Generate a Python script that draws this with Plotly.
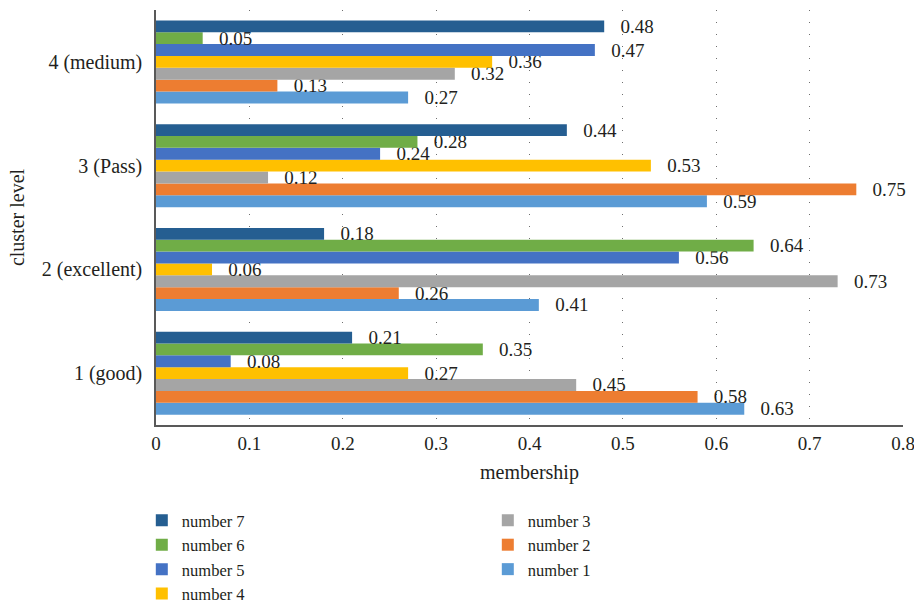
import plotly.graph_objects as go

# Cluster levels (bottom to top) and membership per sample
levels = ["1 (good)", "2 (excellent)", "3 (Pass)", "4 (medium)"]

number_1 = [0.63, 0.41, 0.59, 0.27]
number_2 = [0.58, 0.26, 0.75, 0.13]
number_3 = [0.45, 0.73, 0.12, 0.32]
number_4 = [0.27, 0.06, 0.53, 0.36]
number_5 = [0.08, 0.56, 0.24, 0.47]
number_6 = [0.35, 0.64, 0.28, 0.05]
number_7 = [0.21, 0.18, 0.44, 0.48]

x_ticks = [0, 0.1, 0.2, 0.3, 0.4, 0.5, 0.6, 0.7, 0.8]

# (legend name, values, colour, legend rank) -- ranks lay the legend out
# as two columns: 7,6,5,4 on the left and 3,2,1 on the right
series = [
    ("number 1", number_1, "#5B9BD5", 6),
    ("number 2", number_2, "#ED7D31", 4),
    ("number 3", number_3, "#A5A5A5", 2),
    ("number 4", number_4, "#FFC000", 7),
    ("number 5", number_5, "#4472C4", 5),
    ("number 6", number_6, "#70AD47", 3),
    ("number 7", number_7, "#255E91", 1),
]

FONT = "Liberation Serif, Times New Roman, serif"
INK = "#231f20"

fig = go.Figure()
for name, vals, color, rank in series:
    fig.add_trace(go.Bar(
        name=name,
        y=levels,
        x=vals,
        orientation="h",
        marker=dict(color=color, line=dict(width=0)),
        text=[f"{v:.2f}" for v in vals],
        texttemplate="  \u2009%{text}",
        textposition="outside",
        constraintext="none",
        cliponaxis=False,
        textfont=dict(family=FONT, size=19, color=INK),
        legendrank=rank,
    ))

fig.update_layout(
    width=914,
    height=603,
    margin=dict(l=156, r=11, t=10, b=178, autoexpand=False),
    paper_bgcolor="white",
    plot_bgcolor="white",
    barmode="group",
    bargap=0.2,
    bargroupgap=0,
    font=dict(family=FONT, size=19, color=INK),
    showlegend=True,
    legend=dict(
        orientation="h",
        x=-0.019,
        xanchor="left",
        y=-0.188,
        yanchor="top",
        entrywidth=301,
        entrywidthmode="pixels",
        traceorder="normal",
        font=dict(family=FONT, size=16.5, color=INK),
        itemsizing="constant",
    ),
    xaxis=dict(
        range=[0, 0.8],
        tickvals=x_ticks,
        ticktext=[f"{t:g}" for t in x_ticks],
        ticklabeloverflow="allow",
        showgrid=True,
        gridcolor="#6f6f6f",
        gridwidth=1,
        griddash="1px,11px",
        zeroline=False,
        showline=True,
        linecolor="#595959",
        linewidth=1.5,
        ticks="",
        title=dict(text="membership", standoff=12, font=dict(size=20)),
        tickfont=dict(family=FONT, size=19),
    ),
    yaxis=dict(
        showgrid=False,
        zeroline=False,
        showline=True,
        linecolor="#595959",
        linewidth=1.5,
        ticks="",
        ticklabelstandoff=8,
        title=dict(text="cluster level", standoff=12, font=dict(size=20)),
        tickfont=dict(family=FONT, size=20),
    ),
)

fig.write_html("out.html")
